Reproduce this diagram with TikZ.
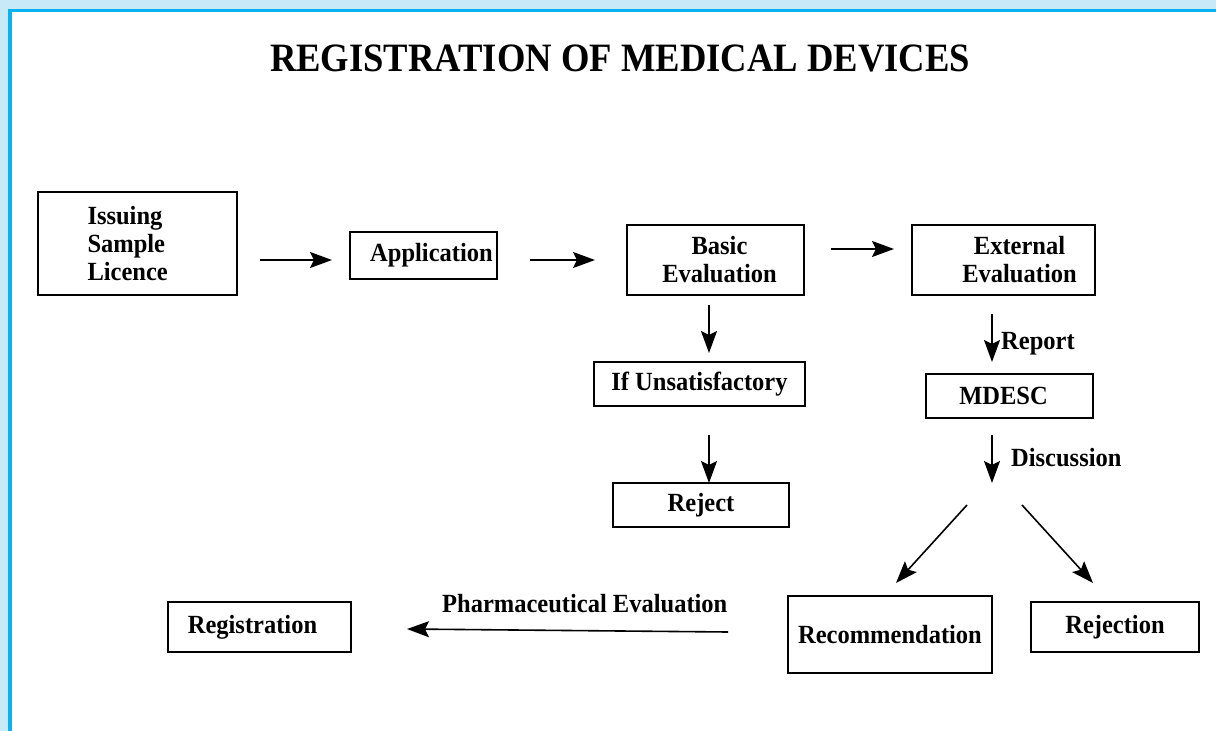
\documentclass[tikz,border=0pt]{standalone}
\usepackage{fontspec}
\usepackage{graphicx}
\setmainfont{Liberation Serif}
\usetikzlibrary{arrows.meta}
\definecolor{bandc}{RGB}{200,233,248}
\definecolor{framec}{RGB}{10,178,240}
\newcommand{\tx}[1]{\scalebox{1}[1.07]{#1}}
\tikzset{
  box/.style={draw=black, line width=1.6pt, inner sep=0pt, align=center,
    font=\bfseries\fontsize{24.5}{28}\selectfont},
  lbl/.style={inner sep=0pt, font=\bfseries\fontsize{24.5}{28}\selectfont},
  arr/.style={line width=1.6pt, -{Stealth[length=22pt,width=16pt,inset=4pt]}},
}
\begin{document}
\begin{tikzpicture}[x=1pt,y=-1pt]
\useasboundingbox (0,0) rectangle (1216,731);
\fill[bandc] (0,0) rectangle (1216,731);
\fill[framec] (8,9) rectangle (1216,731);
\fill[white] (11.5,12.3) rectangle (1216,731);

\node[inner sep=0pt, font=\bfseries\fontsize{36.6}{40}\selectfont] (title) at (620,58) {\scalebox{1}[1.1]{REGISTRATION OF MEDICAL DEVICES}};

% boxes
\node[box, minimum width=199pt, minimum height=103pt, text width=100pt, align=left] (issue) at (137.5,243.5) {\tx{Issuing}\\\tx{Sample}\\\tx{Licence}};
\node[box, minimum width=147pt, minimum height=47pt] (app) at (423.5,255.5) {\hspace*{16pt}\tx{Application}};
\node[box, minimum width=177pt, minimum height=70pt] (basic) at (715.5,260) {\hspace*{8pt}\tx{Basic}\\\hspace*{8pt}\tx{Evaluation}};
\node[box, minimum width=183pt, minimum height=70pt] (ext) at (1003.5,260) {\hspace*{32pt}\tx{External}\\\hspace*{32pt}\tx{Evaluation}};
\node[box, minimum width=211pt, minimum height=44pt] (unsat) at (699.5,384) {\tx{If Unsatisfactory}};
\node[box, minimum width=176pt, minimum height=44pt] (reject) at (701,505) {\tx{Reject}};
\node[box, minimum width=167pt, minimum height=44pt] (mdesc) at (1009.5,396) {\tx{MDESC}\hspace*{12pt}};
\node[box, minimum width=204pt, minimum height=77pt] (recom) at (890,634.5) {\tx{Recommendation}};
\node[box, minimum width=168pt, minimum height=50pt] (rejn) at (1115,627) {\tx{Rejection}};
\node[box, minimum width=183pt, minimum height=50pt] (reg) at (259.5,627) {\tx{Registration}\hspace*{14pt}};

% arrow end points
\coordinate (a1s) at (260,260); \coordinate (a1e) at (332,260);
\coordinate (a2s) at (530,260); \coordinate (a2e) at (595,260);
\coordinate (a3s) at (831,249); \coordinate (a3e) at (894,249);
\coordinate (b1s) at (709,305); \coordinate (b1e) at (709,353);
\coordinate (b2s) at (709,435); \coordinate (b2e) at (709,483);
\coordinate (c1s) at (992,314); \coordinate (c1e) at (992,362);
\coordinate (c2s) at (992,435); \coordinate (c2e) at (992,483);
\coordinate (d1s) at (967,505); \coordinate (d1e) at (896,583);
\coordinate (d2s) at (1022,505); \coordinate (d2e) at (1093,583);
\coordinate (ps) at (728,632); \coordinate (pe) at (407,629);

\draw[arr] (a1s) -- (a1e);
\draw[arr] (a2s) -- (a2e);
\draw[arr] (a3s) -- (a3e);
\draw[arr] (b1s) -- (b1e);
\draw[arr] (b2s) -- (b2e);
\draw[arr] (c1s) -- (c1e);
\draw[arr] (c2s) -- (c2e);
\draw[arr] (d1s) -- (d1e);
\draw[arr] (d2s) -- (d2e);
\draw[arr] (ps) -- (pe);

\node[lbl, anchor=west] (report) at (1001,344) {\tx{Report}};
\node[lbl, anchor=west] (disc) at (1011,458) {\tx{Discussion}};
\node[lbl, anchor=west] (pharm) at (442,604) {\tx{Pharmaceutical Evaluation}};
\end{tikzpicture}
\end{document}
